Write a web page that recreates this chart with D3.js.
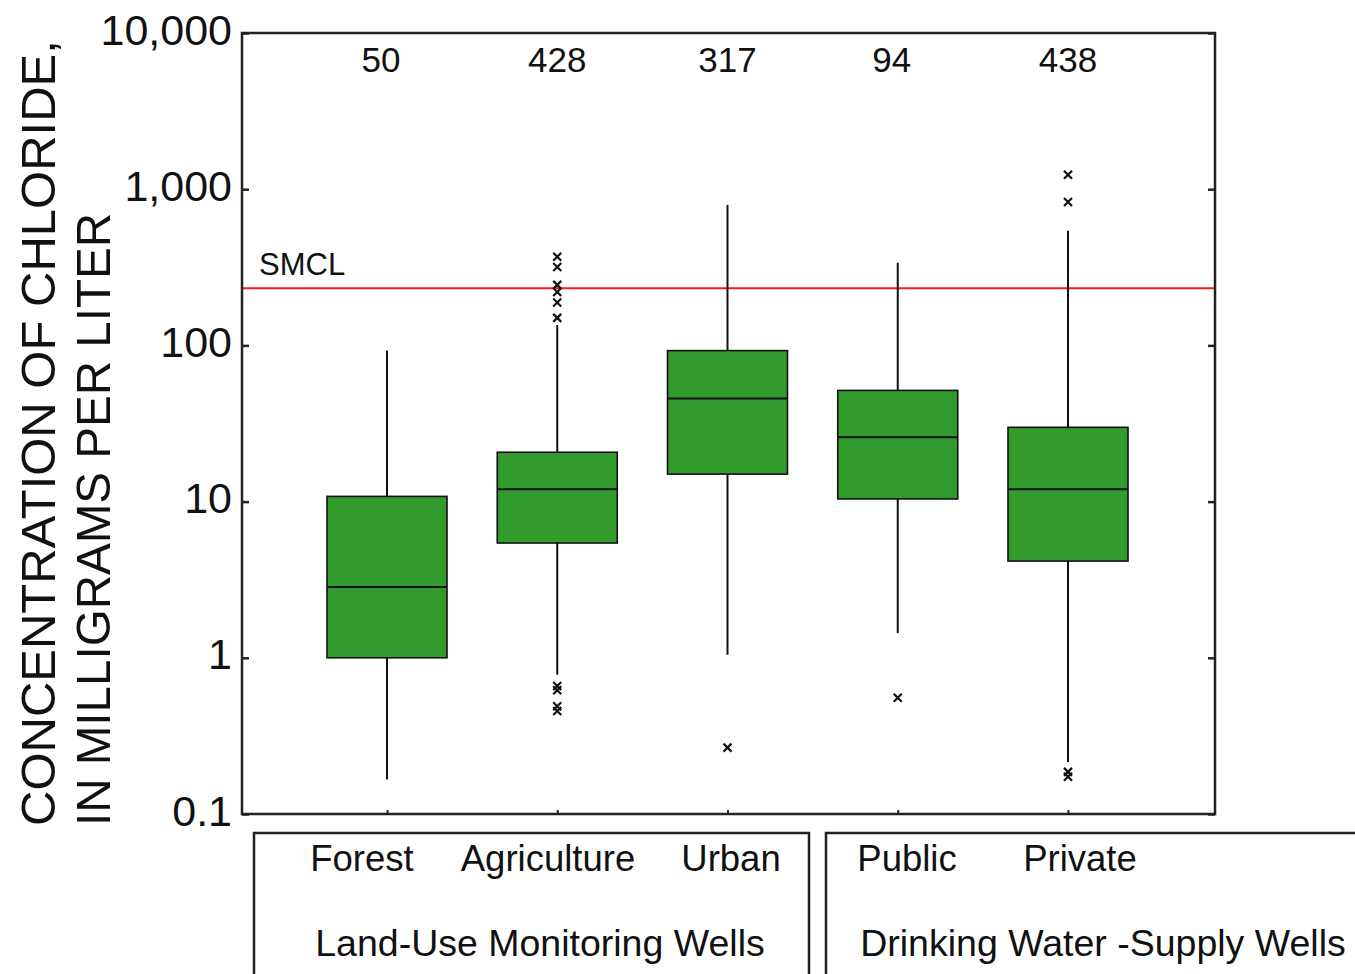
<!DOCTYPE html>
<html>
<head>
<meta charset="utf-8">
<script src="https://cdn.jsdelivr.net/npm/d3@7"></script>
<style>
  html, body { margin: 0; padding: 0; background: #fff; }
  svg { display: block; font-family: "Liberation Sans", Arial, Helvetica, sans-serif; }
</style>
</head>
<body>
<svg id="chart" width="1355" height="974"></svg>
<script>
// Chloride concentration (mg/L) by well type
const categories = ["Forest", "Agriculture", "Urban", "Public", "Private"];
const sampleCounts = [50, 428, 317, 94, 438];
const whiskerLow  = [0.166, 0.78, 1.045, 1.44, 0.215];
const quartile1   = [1.0, 5.43, 15.0, 10.4, 4.16];
const medians     = [2.84, 12.0, 45.7, 25.8, 12.0];
const quartile3   = [10.8, 20.7, 92.6, 51.5, 29.9];
const whiskerHigh = [92.7, 135, 793, 338, 541];
const outliers = [
  [],
  [369, 318, 244, 220, 188, 150, 0.66, 0.62, 0.49, 0.456],
  [0.266],
  [0.555],
  [1236, 829, 0.186, 0.173]
];
const smcl = 232;
const yTicks = [0.1, 1, 10, 100, 1000, 10000];
const yTickLabels = ["0.1", "1", "10", "100", "1,000", "10,000"];
const groups = [
  { label: "Land-Use Monitoring Wells", members: ["Forest", "Agriculture", "Urban"] },
  { label: "Drinking Water -Supply Wells", members: ["Public", "Private"] }
];

const svg = d3.select("#chart");
const plot = { left: 242, top: 33, right: 1215, bottom: 814 };

const y = d3.scaleLog().domain([0.1, 10000]).range([plot.bottom, plot.top]);
const x = d3.scalePoint().domain(categories).range([387, 1068]);
const halfBox = 60;

// SMCL reference line
svg.append("line")
  .attr("x1", plot.left).attr("x2", plot.right)
  .attr("y1", y(smcl)).attr("y2", y(smcl))
  .attr("stroke", "#ff1a1a").attr("stroke-width", 2);
svg.append("text")
  .attr("x", 259).attr("y", y(smcl) - 13)
  .attr("font-size", 31).attr("fill", "#111")
  .text("SMCL");

// Box plots
const boxes = svg.append("g");
categories.forEach((c, i) => {
  const cx = x(c);
  const g = boxes.append("g");
  g.append("line")
    .attr("x1", cx).attr("x2", cx)
    .attr("y1", y(whiskerLow[i])).attr("y2", y(quartile1[i]))
    .attr("stroke", "#111").attr("stroke-width", 2);
  g.append("line")
    .attr("x1", cx).attr("x2", cx)
    .attr("y1", y(quartile3[i])).attr("y2", y(whiskerHigh[i]))
    .attr("stroke", "#111").attr("stroke-width", 2);
  g.append("rect")
    .attr("x", cx - halfBox).attr("width", halfBox * 2)
    .attr("y", y(quartile3[i])).attr("height", y(quartile1[i]) - y(quartile3[i]))
    .attr("fill", "#339a2e").attr("stroke", "#111").attr("stroke-width", 1.6);
  g.append("line")
    .attr("x1", cx - halfBox).attr("x2", cx + halfBox)
    .attr("y1", y(medians[i])).attr("y2", y(medians[i]))
    .attr("stroke", "#111").attr("stroke-width", 2);
  // outlier crosses
  outliers[i].forEach(v => {
    const oy = y(v), s = 4;
    g.append("path")
      .attr("d", `M${cx - s},${oy - s}L${cx + s},${oy + s}M${cx + s},${oy - s}L${cx - s},${oy + s}`)
      .attr("stroke", "#111").attr("stroke-width", 2.2);
  });
  // sample counts (two-digit counts sit a little left of centre)
  const label = String(sampleCounts[i]);
  svg.append("text")
    .attr("x", cx - (label.length < 3 ? 6 : 0)).attr("y", 72)
    .attr("text-anchor", "middle").attr("font-size", 35).attr("fill", "#111")
    .text(label);
});

// Frame
svg.append("rect")
  .attr("x", plot.left).attr("y", plot.top)
  .attr("width", plot.right - plot.left).attr("height", plot.bottom - plot.top)
  .attr("fill", "none").attr("stroke", "#222").attr("stroke-width", 2.5);

// Y axes: inward ticks on both sides
const leftAxis = d3.axisRight(y).tickValues(yTicks).tickSize(7).tickFormat("");
const rightAxis = d3.axisLeft(y).tickValues(yTicks).tickSize(7).tickFormat("");
[svg.append("g").attr("transform", `translate(${plot.left},0)`).call(leftAxis),
 svg.append("g").attr("transform", `translate(${plot.right},0)`).call(rightAxis)]
  .forEach(a => {
    a.select(".domain").remove();
    a.selectAll(".tick line").attr("stroke", "#222").attr("stroke-width", 2.5);
  });

// Y tick labels
svg.append("g").selectAll("text").data(yTicks).join("text")
  .attr("x", 232).attr("y", d => y(d))
  .attr("dy", "0.27em")
  .attr("text-anchor", "end").attr("font-size", 43).attr("fill", "#111")
  .text((d, i) => yTickLabels[i]);

// Small category ticks on the bottom axis
const bottomAxis = d3.axisTop(x).tickSize(4).tickFormat("");
const ba = svg.append("g").attr("transform", `translate(0,${plot.bottom})`).call(bottomAxis);
ba.select(".domain").remove();
ba.selectAll(".tick line").attr("stroke", "#222").attr("stroke-width", 2);

// Y axis title
const title = svg.append("text")
  .attr("transform", "translate(0,826) rotate(-90)")
  .attr("font-size", 49).attr("fill", "#111");
title.append("tspan").attr("x", 0).attr("y", 55).text("CONCENTRATION OF CHLORIDE,");
title.append("tspan").attr("x", 0).attr("y", 110)
  .attr("textLength", 613).attr("lengthAdjust", "spacingAndGlyphs")
  .text("IN MILLIGRAMS PER LITER");

// Category and group labels below the plot
const groupBoxes = [
  { x0: 254, x1: 809 },
  { x0: 826, x1: 1380 }
];
groups.forEach((grp, gi) => {
  const b = groupBoxes[gi];
  svg.append("path")
    .attr("d", `M${b.x0},990V833H${b.x1}V990`)
    .attr("fill", "none").attr("stroke", "#222").attr("stroke-width", 2.5);
});
const catLabelX = { Forest: 362, Agriculture: 548, Urban: 731, Public: 907, Private: 1080 };
svg.append("g").selectAll("text").data(categories).join("text")
  .attr("x", d => catLabelX[d]).attr("y", 871)
  .attr("text-anchor", "middle").attr("font-size", 36.5).attr("fill", "#111")
  .text(d => d);
svg.append("text").attr("x", 540).attr("y", 956)
  .attr("text-anchor", "middle").attr("font-size", 37.5).attr("fill", "#111")
  .text(groups[0].label);
svg.append("text").attr("x", 1103).attr("y", 956)
  .attr("text-anchor", "middle").attr("font-size", 37.5).attr("fill", "#111")
  .text(groups[1].label);
</script>
</body>
</html>
